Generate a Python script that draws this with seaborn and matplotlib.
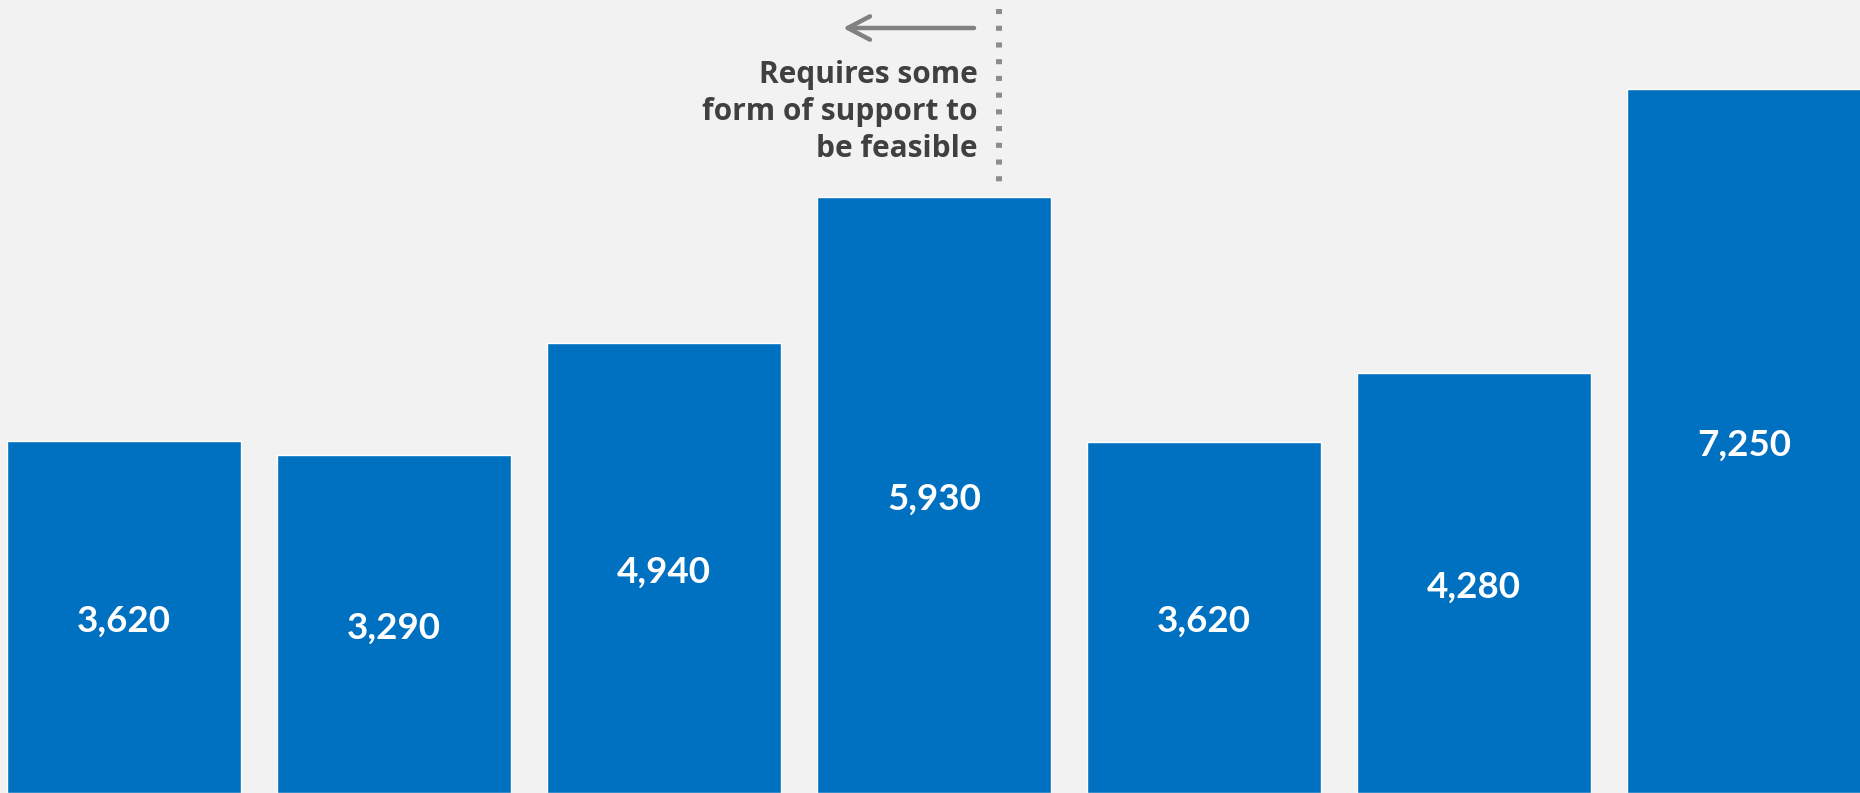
import matplotlib
matplotlib.use("Agg")
import matplotlib.pyplot as plt
import seaborn as sns
import pandas as pd

# ---- data ----
categories = ["1", "2", "3", "4", "5", "6", "7"]
value_labels = [3620, 3290, 4940, 5930, 3620, 4280, 7250]
# visible bar heights as drawn in the reference (chart is cropped at bottom)
bar_heights = [352, 338, 450, 596, 351, 420, 704]
annotation_text = "Requires some\nform of support to\nbe feasible"

BG = "#f2f2f2"
BAR = "#0070c0"

sns.set_theme(style="white")
plt.rcParams["font.family"] = ["Lato", "DejaVu Sans"]

W, H = 1860, 793
fig = plt.figure(figsize=(W / 100, H / 100), dpi=100, facecolor=BG)
ax = fig.add_axes([0, 0, 1, 1])
ax.set_facecolor(BG)

df = pd.DataFrame({"cat": categories, "h": bar_heights})
sns.barplot(data=df, x="cat", y="h", color=BAR, saturation=1, width=234 / 270,
            ax=ax, errorbar=None)

# pixel -> data mapping: bar 0 centre at 124 px, pitch 270 px
x0, pitch = 124, 270
ax.set_xlim((0 - x0) / pitch, (W - x0) / pitch)
ax.set_ylim(0, H)
ax.axis("off")

for i, (v, h) in enumerate(zip(value_labels, bar_heights)):
    ax.text(i, h / 2 - 4, f"{v:,}", ha="center", va="center", color="white",
            fontsize=26.5, fontweight="bold")

def px_x(p):
    return (p - x0) / pitch

def px_y(p):
    return H - p

# dotted divider
ax.plot([px_x(999), px_x(999)], [px_y(9), px_y(182)], color="#8c8c8c",
        linewidth=4.3, linestyle=(0, (0.85, 1.95)), solid_capstyle="butt",
        dash_capstyle="butt")

# arrow pointing left
ax.annotate("", xy=(px_x(843), px_y(28)), xytext=(px_x(974), px_y(28)),
            arrowprops=dict(arrowstyle="->,head_length=0.8,head_width=0.42",
                            color="#808080", lw=3.2, mutation_scale=20,
                            shrinkA=0, shrinkB=0, capstyle="round",
                            joinstyle="round"))

ax.text(px_x(978), px_y(112), annotation_text, ha="right", va="center",
        color="#404040", fontsize=21.5, fontweight="bold", linespacing=1.32,
        multialignment="right", family=["Open Sans", "DejaVu Sans"])

fig.savefig("out.png", dpi=100, facecolor=BG)
